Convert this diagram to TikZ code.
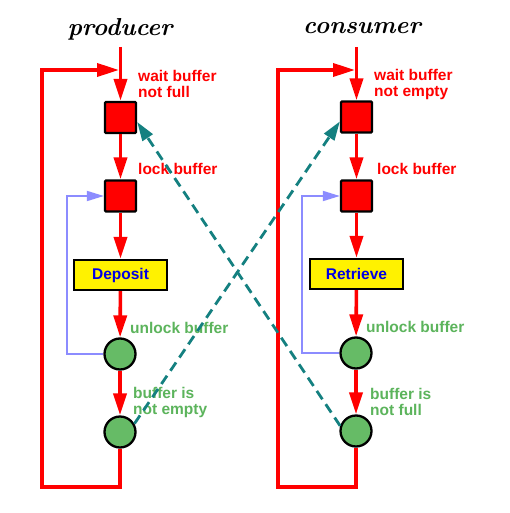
\documentclass[tikz,border=0pt]{standalone}
\usepackage{fontspec}
\newfontfamily\labelfont{Liberation Sans}
\usetikzlibrary{arrows.meta}
\definecolor{cgreen}{RGB}{102,187,102}
\definecolor{tgreen}{RGB}{92,180,92}
\definecolor{teal2}{RGB}{20,128,128}
\definecolor{lblue}{RGB}{140,140,255}
\definecolor{tblue}{RGB}{0,0,230}
\begin{document}
\begin{tikzpicture}[x=1pt,y=-1pt,
  sq/.style={draw=black, line width=2.3pt, fill=red, minimum size=31pt, inner sep=0pt, rounded corners=1pt},
  circ/.style={circle, draw=black, line width=2.3pt, fill=cgreen, minimum size=31pt, inner sep=0pt},
  act/.style={draw=black, line width=2.3pt, fill=yellow, minimum width=93pt, minimum height=30pt, inner sep=0pt, text=tblue, font=\labelfont\bfseries\fontsize{15.5}{18}\selectfont},
  title/.style={font=\fontsize{24.5}{28}\selectfont\bfseries\itshape, inner sep=0pt},
  rlbl/.style={anchor=north west, inner sep=0pt, align=left, text=red, font=\labelfont\bfseries\fontsize{15.5}{16}\selectfont},
  glbl/.style={anchor=north west, inner sep=0pt, align=left, text=tgreen, font=\labelfont\bfseries\fontsize{15.5}{16}\selectfont},
  flow/.style={draw=red, line width=3.6pt, -{Triangle[length=22pt,width=13pt]}},
  bflow/.style={draw=lblue, line width=1.8pt, -{Triangle[length=17pt,width=10pt]}},
  tflow/.style={draw=teal2, line width=2.8pt, dash pattern=on 10pt off 6pt, -{Triangle[length=19pt,width=12pt]}}
]
\useasboundingbox (0,0) rectangle (509,513);
\fill[white] (0,0) rectangle (509,513);

% producer
\node[title] (ptitle) at (120,29) {producer};
\node[sq] (ps1) at (120.5,117.5) {};
\node[sq] (ps2) at (120.5,196) {};
\node[act] (pdep) at (120.5,275) {Deposit};
\node[circ] (pc1) at (120,354) {};
\node[circ] (pc2) at (120,432) {};
\coordinate (ptop) at (120.5,47);
\coordinate (pjoin) at (119,70);
\coordinate (pbl) at (42,487);
\coordinate (ptl) at (42,70);
\coordinate (pbx) at (67,300);

\node[rlbl] (pwait) at (138,70) {wait buffer\\not full};
\node[rlbl] (plock) at (138,163) {lock buffer};
\node[glbl] (punlock) at (130,322) {unlock buffer};
\node[glbl] (pnotempty) at (133,387) {buffer is\\not empty};

% consumer
\node[title] (ctitle) at (362,28) {consumer};
\node[sq] (cs1) at (356.5,117) {};
\node[sq] (cs2) at (356.5,196) {};
\node[act] (cret) at (356.5,274) {Retrieve};
\node[circ] (cc1) at (356,353) {};
\node[circ] (cc2) at (356,431) {};
\coordinate (ctop) at (356.5,47);
\coordinate (cjoin) at (355,70);
\coordinate (cbl) at (278,487);
\coordinate (ctl) at (278,70);
\coordinate (cbx) at (302,300);

\node[rlbl] (cwait) at (374,69) {wait buffer\\not empty};
\node[rlbl] (clock) at (377,163) {lock buffer};
\node[glbl] (cunlock) at (366,321) {unlock buffer};
\node[glbl] (cnotfull) at (370,388) {buffer is\\not full};

% producer flows
\draw[flow] (ptop) -- (ps1);
\draw[flow] (ps1) -- (ps2);
\draw[flow] (ps2) -- (pdep);
\draw[flow] (pdep) -- (pc1);
\draw[flow] (pc1) -- (pc2);
\draw[flow, line join=miter] (pc2) |- (pbl) -- (ptl) -- (pjoin);
\draw[bflow] (pc1.west) -| (pbx) |- (ps2.west);

% consumer flows
\draw[flow] (ctop) -- (cs1);
\draw[flow] (cs1) -- (cs2);
\draw[flow] (cs2) -- (cret);
\draw[flow] (cret) -- (cc1);
\draw[flow] (cc1) -- (cc2);
\draw[flow, line join=miter] (cc2) |- (cbl) -- (ctl) -- (cjoin);
\draw[bflow] (cc1.west) -| (cbx) |- (cs2.west);

% cross signals
\draw[tflow] (pc2.30) -- (cs1.-165);
\draw[tflow] (cc2.162) -- (ps1.-15);
\end{tikzpicture}
\end{document}
